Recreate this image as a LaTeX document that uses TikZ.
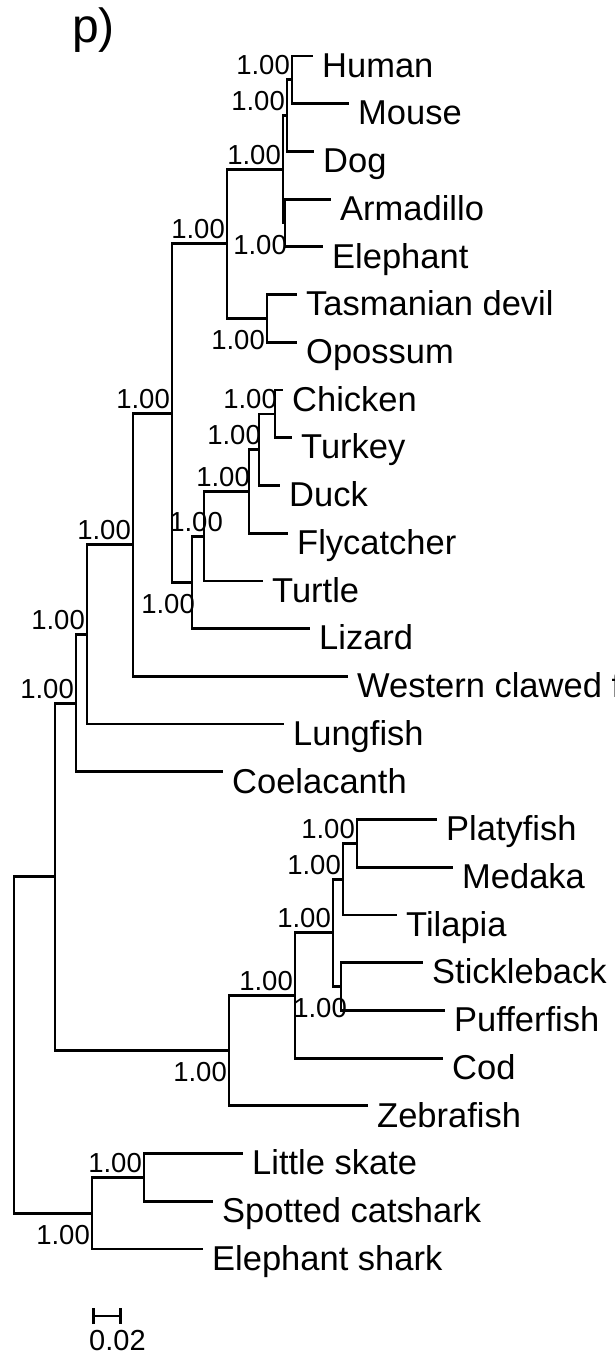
\documentclass[tikz,border=0pt]{standalone}
\usepackage{fontspec}
\setmainfont{Liberation Sans}
\usetikzlibrary{arrows.meta}
\begin{document}
\begin{tikzpicture}[x=1pt,y=-1pt,
  branch/.style={line width=2.8pt},
  leaf/.style={anchor=north west,inner xsep=9pt,inner ysep=0pt,text height=21pt,text depth=7pt,font=\fontsize{34.5}{38}\selectfont},
  supup/.style={anchor=base east,inner sep=0pt,xshift=-2pt,yshift=5pt,font=\fontsize{27.5}{30}\selectfont},
  suplo/.style={anchor=base east,inner sep=0pt,xshift=-2pt,yshift=-31pt,font=\fontsize{27.5}{30}\selectfont},
  plain/.style={anchor=base west,inner sep=0pt}]

  \pgfmathsetmacro{\ysep}{47.72} ;

  \useasboundingbox (0,0) rectangle (615,1354) ;

  \node[plain,font=\fontsize{48}{52}\selectfont] at (72, 43) (title) {p)} ;

  % leaves
  \node[leaf] at (313, 56+ 0*\ysep) (human)  {Human} ;
  \node[leaf] at (349, 56+ 1*\ysep) (mouse)  {Mouse} ;
  \node[leaf] at (314, 56+ 2*\ysep) (dog)    {Dog} ;
  \node[leaf] at (331, 56+ 3*\ysep) (armad)  {Armadillo} ;
  \node[leaf] at (323, 56+ 4*\ysep) (eleph)  {Elephant} ;
  \node[leaf] at (297, 56+ 5*\ysep) (tasdev) {Tasmanian devil} ;
  \node[leaf] at (297, 56+ 6*\ysep) (opos)   {Opossum} ;
  \node[leaf] at (283, 56+ 7*\ysep) (chick)  {Chicken} ;
  \node[leaf] at (292, 56+ 8*\ysep) (turkey) {Turkey} ;
  \node[leaf] at (280, 56+ 9*\ysep) (duck)   {Duck} ;
  \node[leaf] at (288, 56+10*\ysep) (flycat) {Flycatcher} ;
  \node[leaf] at (263, 56+11*\ysep) (turtle) {Turtle} ;
  \node[leaf] at (310, 56+12*\ysep) (lizard) {Lizard} ;
  \node[leaf] at (348, 56+13*\ysep) (xenop)  {Western clawed frog} ;
  \node[leaf] at (284, 56+14*\ysep) (lungf)  {Lungfish} ;
  \node[leaf] at (223, 56+15*\ysep) (coel)   {Coelacanth} ;
  \node[leaf] at (437, 56+16*\ysep) (platy)  {Platyfish} ;
  \node[leaf] at (453, 56+17*\ysep) (medaka) {Medaka} ;
  \node[leaf] at (397, 56+18*\ysep) (tilap)  {Tilapia} ;
  \node[leaf] at (423, 56+19*\ysep) (stickl) {Stickleback} ;
  \node[leaf] at (445, 56+20*\ysep) (puffer) {Pufferfish} ;
  \node[leaf] at (443, 56+21*\ysep) (cod)    {Cod} ;
  \node[leaf] at (368, 56+22*\ysep) (zebra)  {Zebrafish} ;
  \node[leaf] at (243, 56+23*\ysep) (lskate) {Little skate} ;
  \node[leaf] at (213, 56+24*\ysep) (catsh)  {Spotted catshark} ;
  \node[leaf] at (203, 56+25*\ysep) (eshark) {Elephant shark} ;

  % inner nodes
  \coordinate (hm)      at (292, 56+0.5*\ysep) ;
  \coordinate (hmd)     at (287, 56+1.25*\ysep) ;
  \coordinate (ae)      at (285, 56+3.5*\ysep) ;
  \coordinate (plac)    at (283, 56+2.375*\ysep) ;
  \coordinate (mars)    at (267, 56+5.5*\ysep) ;
  \coordinate (mamm)    at (227, 56+3.9375*\ysep) ;
  \coordinate (chtu)    at (275, 56+7.5*\ysep) ;
  \coordinate (galan)   at (259, 56+8.25*\ysep) ;
  \coordinate (bird)    at (249, 56+9.125*\ysep) ;
  \coordinate (arctu)   at (204, 56+10.0625*\ysep) ;
  \coordinate (saur)    at (192, 56+11.03125*\ysep) ;
  \coordinate (amni)    at (172, 56+7.484375*\ysep) ;
  \coordinate (tetra)   at (133, 56+10.2421875*\ysep) ;
  \coordinate (sarco)   at ( 87, 56+12.12109375*\ysep) ;
  \coordinate (sarcoc)  at ( 76, 56+13.560546875*\ysep) ;
  \coordinate (platmed) at (357, 56+16.5*\ysep) ;
  \coordinate (perc1)   at (343, 56+17.25*\ysep) ;
  \coordinate (stpu)    at (341, 56+19.5*\ysep) ;
  \coordinate (perco)   at (333, 56+18.375*\ysep) ;
  \coordinate (codn)    at (295, 56+19.6875*\ysep) ;
  \coordinate (actin)   at (229, 56+20.84375*\ysep) ;
  \coordinate (osteic)  at ( 55, 56+17.2021484375*\ysep) ;
  \coordinate (skcat)   at (144, 56+23.5*\ysep) ;
  \coordinate (chond)   at ( 92, 56+24.25*\ysep) ;
  \coordinate (root)    at ( 14, 56+20.72607421875*\ysep) ;

  % support values
  \node[supup] at (hm)      (shm)      {1.00} ;
  \node[supup] at (hmd)     (shmd)     {1.00} ;
  \node[suplo,xshift=4pt] at (ae) (sae) {1.00} ;
  \node[supup] at (plac)    (splac)    {1.00} ;
  \node[suplo] at (mars)    (smars)    {1.00} ;
  \node[supup] at (mamm)    (smamm)    {1.00} ;
  \node[supup,xshift=4pt] at (chtu)  (schtu)  {1.00} ;
  \node[supup,xshift=4pt] at (galan) (sgalan) {1.00} ;
  \node[supup,xshift=3pt] at (bird)  (sbird)  {1.00} ;
  \node[supup,xshift=21pt] at (arctu) (sarctu) {1.00} ;
  \node[suplo,xshift=5pt] at (saur)  (ssaur)  {1.00} ;
  \node[supup] at (amni)    (samni)    {1.00} ;
  \node[supup] at (tetra)   (stetra)   {1.00} ;
  \node[supup] at (sarco)   (ssarco)   {1.00} ;
  \node[supup] at (sarcoc)  (ssarcoc)  {1.00} ;
  \node[supup] at (platmed) (splatmed) {1.00} ;
  \node[supup] at (perc1)   (sperc1)   {1.00} ;
  \node[supup] at (perco)   (sperco)   {1.00} ;
  \node[suplo,xshift=8pt] at (stpu)  (sstpu)  {1.00} ;
  \node[supup] at (codn)    (scodn)    {1.00} ;
  \node[suplo] at (actin)   (sactin)   {1.00} ;
  \node[supup] at (skcat)   (sskcat)   {1.00} ;
  \node[suplo] at (chond)   (schond)   {1.00} ;

  \draw[branch] (root)    |- (osteic) ;
  \draw[branch] (root)    |- (chond) ;
  \draw[branch] (osteic)  |- (sarcoc) ;
  \draw[branch] (osteic)  |- (actin) ;
  \draw[branch] (sarcoc)  |- (sarco) ;
  \draw[branch] (sarcoc)  |- (coel.north west) ;
  \draw[branch] (sarco)   |- (tetra) ;
  \draw[branch] (sarco)   |- (lungf.north west) ;
  \draw[branch] (tetra)   |- (amni) ;
  \draw[branch] (tetra)   |- (xenop.north west) ;
  \draw[branch] (amni)    |- (mamm) ;
  \draw[branch] (amni)    |- (saur) ;
  \draw[branch] (mamm)    |- (plac) ;
  \draw[branch] (mamm)    |- (mars) ;
  \draw[branch] (plac)    |- (hmd) ;
  \draw[branch] (plac)    |- (ae) ;
  \draw[branch] (hmd)     |- (hm) ;
  \draw[branch] (hmd)     |- (dog.north west) ;
  \draw[branch] (hm)      |- (human.north west) ;
  \draw[branch] (hm)      |- (mouse.north west) ;
  \draw[branch] (ae)      |- (armad.north west) ;
  \draw[branch] (ae)      |- (eleph.north west) ;
  \draw[branch] (mars)    |- (tasdev.north west) ;
  \draw[branch] (mars)    |- (opos.north west) ;
  \draw[branch] (saur)    |- (arctu) ;
  \draw[branch] (saur)    |- (lizard.north west) ;
  \draw[branch] (arctu)   |- (bird) ;
  \draw[branch] (arctu)   |- (turtle.north west) ;
  \draw[branch] (bird)    |- (galan) ;
  \draw[branch] (bird)    |- (flycat.north west) ;
  \draw[branch] (galan)   |- (chtu) ;
  \draw[branch] (galan)   |- (duck.north west) ;
  \draw[branch] (chtu)    |- (chick.north west) ;
  \draw[branch] (chtu)    |- (turkey.north west) ;
  \draw[branch] (actin)   |- (codn) ;
  \draw[branch] (actin)   |- (zebra.north west) ;
  \draw[branch] (codn)    |- (perco) ;
  \draw[branch] (codn)    |- (cod.north west) ;
  \draw[branch] (perco)   |- (perc1) ;
  \draw[branch] (perco)   |- (stpu) ;
  \draw[branch] (perc1)   |- (platmed) ;
  \draw[branch] (perc1)   |- (tilap.north west) ;
  \draw[branch] (platmed) |- (platy.north west) ;
  \draw[branch] (platmed) |- (medaka.north west) ;
  \draw[branch] (stpu)    |- (stickl.north west) ;
  \draw[branch] (stpu)    |- (puffer.north west) ;
  \draw[branch] (chond)   |- (skcat) ;
  \draw[branch] (chond)   |- (eshark.north west) ;
  \draw[branch] (skcat)   |- (lskate.north west) ;
  \draw[branch] (skcat)   |- (catsh.north west) ;

  % scale bar
  \coordinate (sbl) at ( 92, 1316) ;
  \coordinate (sbr) at (122, 1316) ;
  \draw[branch,{Bar[width=16pt]}-{Bar[width=16pt]}] (sbl) -- (sbr) ;
  \node[plain,font=\fontsize{29}{32}\selectfont] at (89, 1350) (sblab) {0.02} ;

\end{tikzpicture}
\end{document}
